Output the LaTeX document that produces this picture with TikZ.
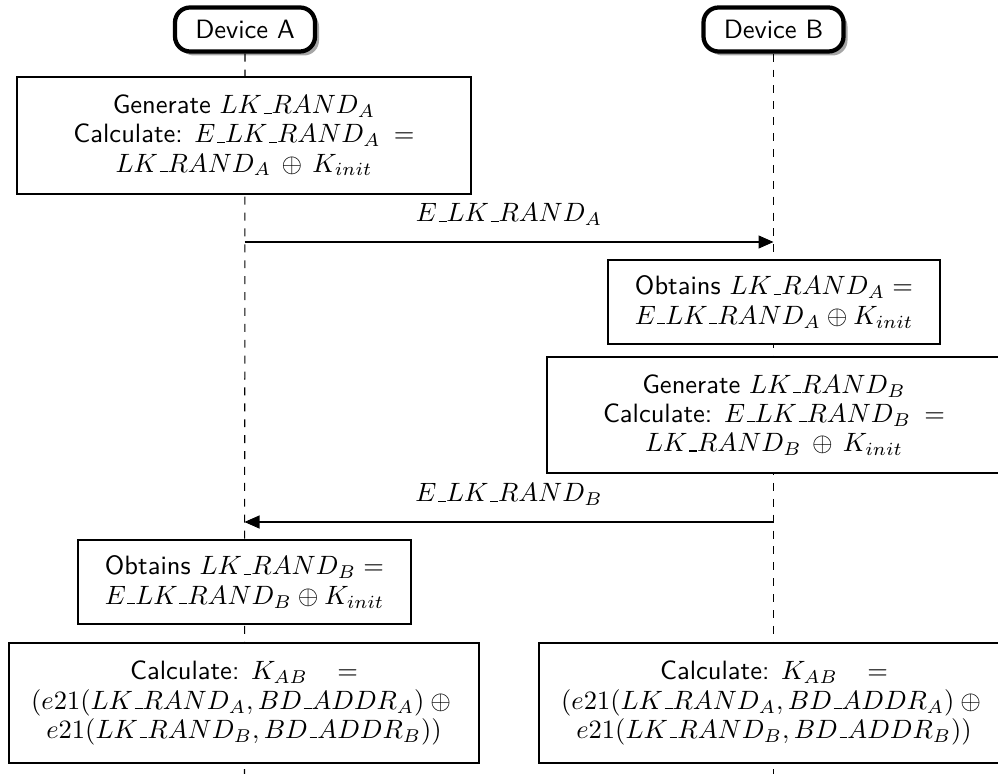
\documentclass[tikz,border=0pt]{standalone}
\usetikzlibrary{arrows.meta,shadows}
% short low underscore for identifiers in math
\newcommand{\us}{\kern.06em\vbox{\hrule width.3em}}
% one drawing unit
\newcommand{\px}{0.3774pt}
\begin{document}
\begin{tikzpicture}[x=\px,y=-\px,
  every node/.style={font=\sffamily},
  device/.style={draw, ultra thick, rounded corners=15*\px, fill=white,
    minimum width=140*\px, minimum height=44*\px, inner sep=0pt,
    drop shadow={shadow xshift=4*\px, shadow yshift=-4*\px, fill=black!35, opacity=1}},
  action/.style={draw, fill=white, align=center, inner sep=0pt,
    font=\sffamily\fontsize{10}{11}\selectfont},
  lifeline/.style={dashed, thin},
  msg/.style={thin, -{Triangle[length=15*\px,width=13*\px]}},
  msglabel/.style={above, inner sep=6pt}
]
\useasboundingbox (0,0) rectangle (998,774);

% participants
\node[device] (devA) at (245,29.5) {Device A};
\node[device] (devB) at (773.5,29.5) {Device B};

% lifelines
\coordinate (endA) at (244.5,774);
\coordinate (endB) at (773.5,774);
\draw[lifeline] (devA.south) -- (endA);
\draw[lifeline] (devB.south) -- (endB);

% actions on A
\node[action, minimum width=454*\px, minimum height=117*\px] (genA) at (244,135.5)
  {Generate $LK\us RAND_A$\\
   Calculate: $E\us LK\us RAND_A\mkern4mu=$\\
   $LK\us RAND_A \mkern3mu\oplus\mkern3mu K_{init}$};

% message A -> B
\coordinate (m1a) at (244.5,242);
\coordinate (m1b) at (773.5,242);
\draw[msg] (m1a) -- node[msglabel] {$E\us LK\us RAND_A$} (m1b);

% actions on B
\node[action, minimum width=332*\px, minimum height=84*\px] (obtA) at (774,302)
  {Obtains $LK\us RAND_A =$\\
   $E\us LK\us RAND_A \oplus K_{init}$};
\node[action, minimum width=454*\px, minimum height=116*\px] (genB) at (774,415)
  {Generate $LK\us RAND_B$\\
   Calculate: $E\us LK\us RAND_B\mkern4mu=$\\
   $LK\us RAND_B \mkern3mu\oplus\mkern3mu K_{init}$};

% message B -> A
\coordinate (m2b) at (773.5,522);
\coordinate (m2a) at (244.5,522);
\draw[msg] (m2b) -- node[msglabel] {$E\us LK\us RAND_B$} (m2a);

% key derivation
\node[action, minimum width=333*\px, minimum height=84*\px] (obtB) at (244.5,582)
  {Obtains $LK\us RAND_B =$\\
   $E\us LK\us RAND_B \oplus K_{init}$};
\node[action, minimum width=470*\px, minimum height=120*\px] (kabA) at (244,703)
  {Calculate: $K_{AB}\mkern15mu=$\\
   $(e21(LK\us RAND_A, BD\us ADDR_A) \oplus{}$\\
   $e21(LK\us RAND_B, BD\us ADDR_B))$};
\node[action, minimum width=470*\px, minimum height=120*\px] (kabB) at (774,703)
  {Calculate: $K_{AB}\mkern15mu=$\\
   $(e21(LK\us RAND_A, BD\us ADDR_A) \oplus{}$\\
   $e21(LK\us RAND_B, BD\us ADDR_B))$};
\end{tikzpicture}
\end{document}
